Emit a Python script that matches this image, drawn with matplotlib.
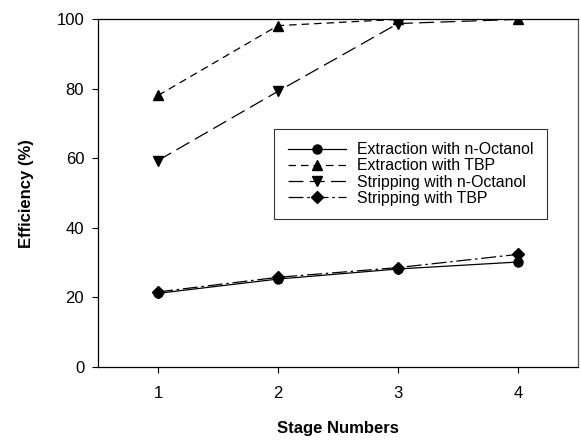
import matplotlib
matplotlib.use("Agg")
import matplotlib.pyplot as plt

plt.rcParams['font.family'] = ['Liberation Sans', 'DejaVu Sans']

stages = [1, 2, 3, 4]
ext_octanol = [21.2, 25.3, 28.2, 30.2]
ext_tbp = [78.1, 98.2, 100.0, 100.0]
strip_octanol = [59.4, 79.3, 98.8, 100.0]
strip_tbp = [21.6, 25.8, 28.6, 32.4]

labels = ["Extraction with n-Octanol", "Extraction with TBP",
          "Stripping with n-Octanol", "Stripping with TBP"]
yticks = [0, 20, 40, 60, 80, 100]

fig = plt.figure(figsize=(5.81, 4.44), dpi=100)
ax = fig.add_axes([0.1687, 0.1734, 0.826, 0.783])

lw = 0.9
ax.plot(stages, ext_octanol, color='black', lw=lw, linestyle='-',
        marker='o', markersize=6.5, label=labels[0])
ax.plot(stages, ext_tbp, color='black', lw=lw, linestyle=(0, (6, 4)),
        marker='^', markersize=6.5, label=labels[1])
ax.plot(stages, strip_octanol, color='black', lw=lw, linestyle=(0, (12, 5)),
        marker='v', markersize=6.5, label=labels[2])
ax.plot(stages, strip_tbp, color='black', lw=lw, linestyle=(0, (12, 3, 2, 3)),
        marker='D', markersize=6, label=labels[3])

ax.set_xlim(0.5, 4.5)
ax.set_ylim(0, 100)
ax.set_xticks(stages)
ax.set_yticks(yticks)
ax.tick_params(direction='out', length=4, width=0.8, labelsize=12)
ax.tick_params(axis='x', pad=10)
ax.tick_params(axis='y', pad=6)
for s in ax.spines.values():
    s.set_linewidth(0.9)
ax.spines['right'].set_color('#555555')

ax.set_xlabel("Stage Numbers", fontsize=12, fontweight='bold', labelpad=14)
ax.set_ylabel("Efficiency (%)", fontsize=12, fontweight='bold', labelpad=16)

leg = ax.legend(loc='upper left', bbox_to_anchor=(0.367, 0.685), fontsize=11.4,
                frameon=True, fancybox=False, edgecolor='black',
                handlelength=3.7, handletextpad=0.7, labelspacing=0.07,
                borderpad=0.85, borderaxespad=0)
leg.get_frame().set_linewidth(0.8)

fig.savefig("out.png", dpi=100)
